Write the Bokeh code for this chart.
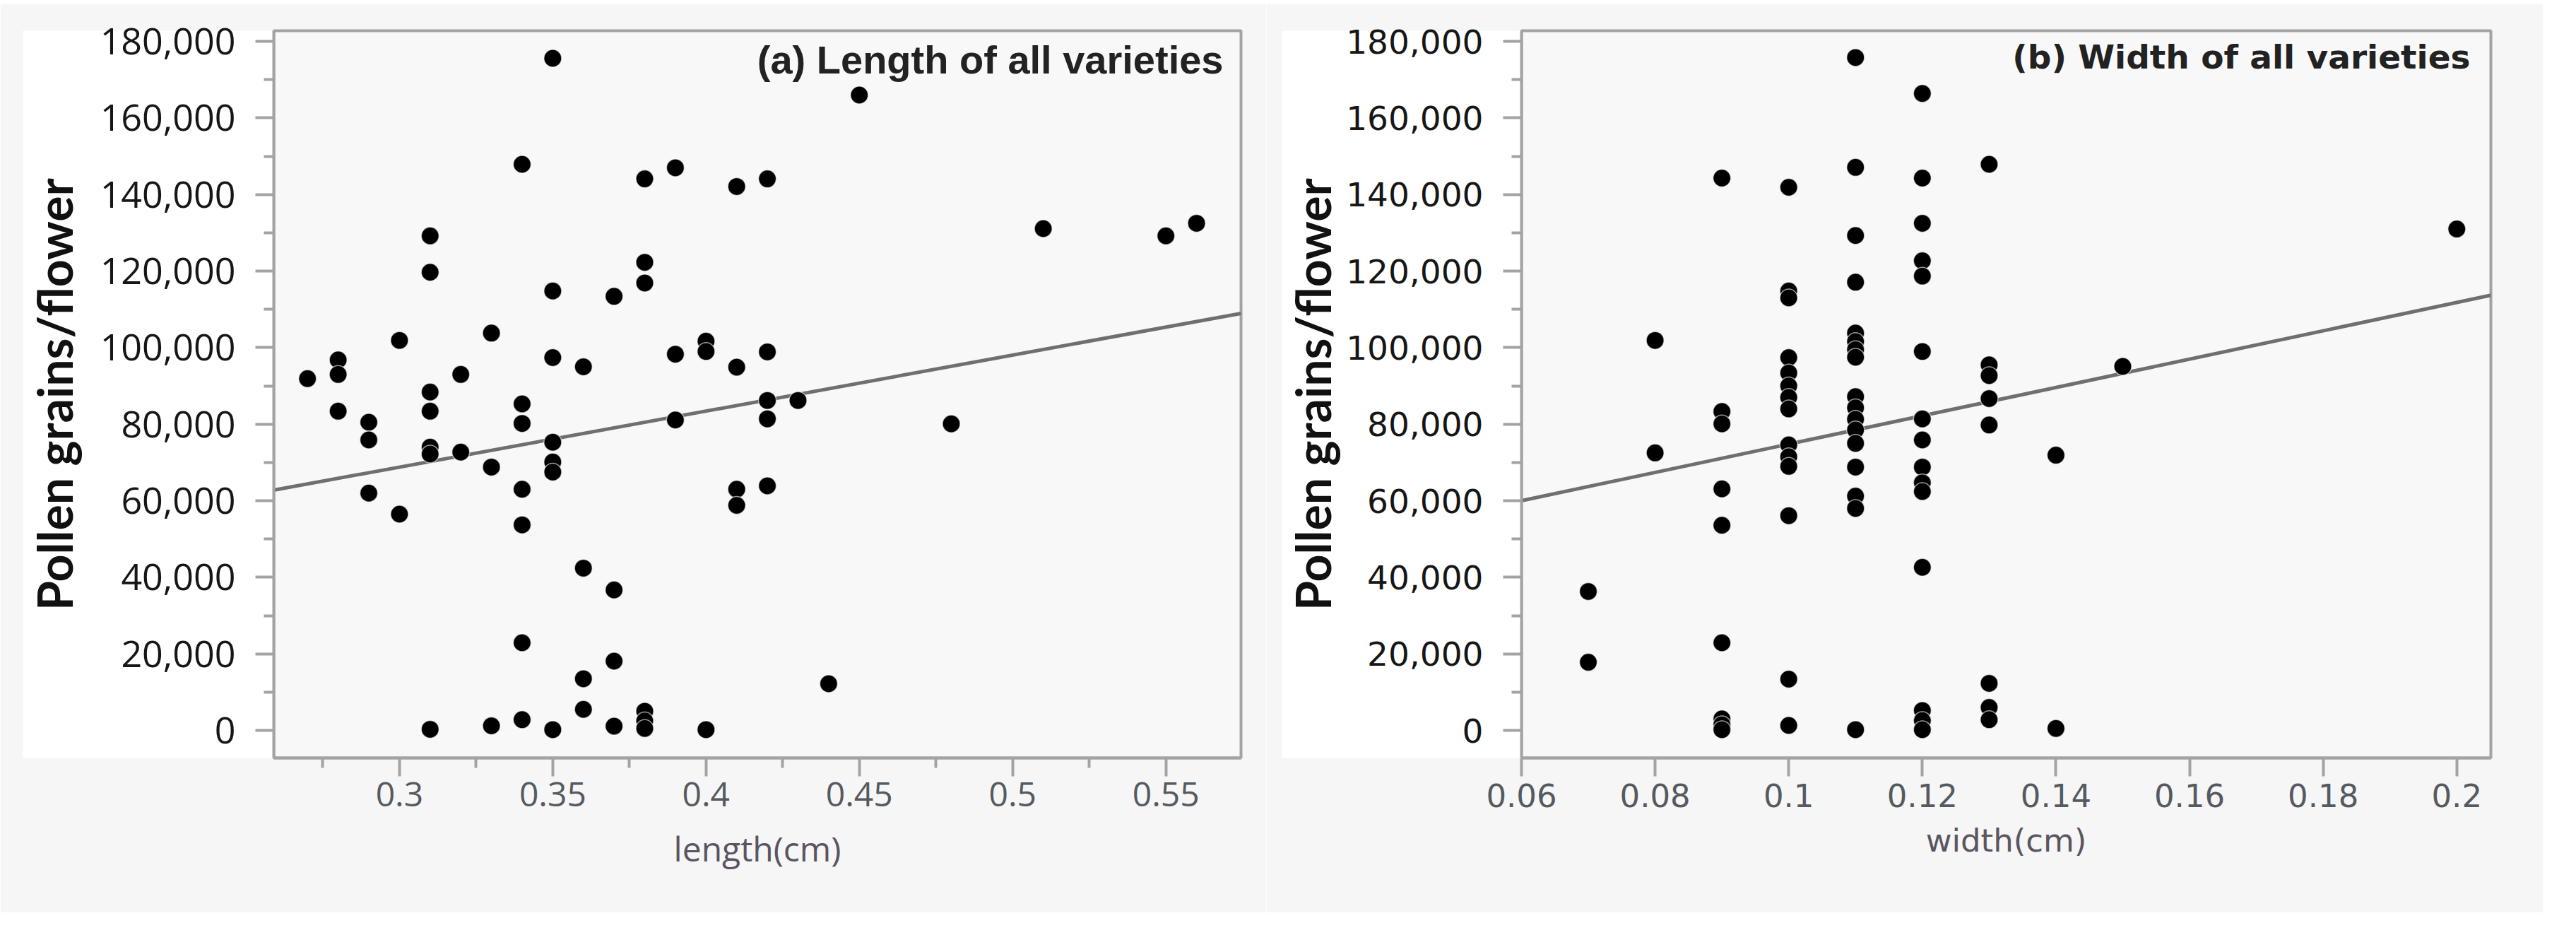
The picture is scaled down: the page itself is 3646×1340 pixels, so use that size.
from bokeh.plotting import figure
from bokeh.models import FixedTicker, NumeralTickFormatter, Label, Range1d, Spacer
from bokeh.layouts import row, column
from bokeh.embed import file_html
from bokeh.resources import INLINE

# ---------------- data ----------------
length_cm = [0.27,
             0.28, 0.28, 0.28,
             0.29, 0.29, 0.29,
             0.30, 0.30,
             0.31, 0.31, 0.31, 0.31, 0.31, 0.31, 0.31,
             0.32, 0.32,
             0.33, 0.33, 0.33,
             0.34, 0.34, 0.34, 0.34, 0.34, 0.34, 0.34,
             0.35, 0.35, 0.35, 0.35, 0.35, 0.35, 0.35,
             0.36, 0.36, 0.36, 0.36,
             0.37, 0.37, 0.37, 0.37,
             0.38, 0.38, 0.38, 0.38, 0.38, 0.38,
             0.39, 0.39, 0.39,
             0.40, 0.40, 0.40,
             0.41, 0.41, 0.41, 0.41,
             0.42, 0.42, 0.42, 0.42, 0.42,
             0.43, 0.44, 0.45, 0.48, 0.51, 0.55, 0.56]
pollen_by_length = [91900,
                    96800, 93000, 83400,
                    80500, 75900, 62000,
                    101900, 56500,
                    129200, 119700, 88400, 83400, 74000, 72200, 300,
                    93000, 72700,
                    103800, 68800, 1200,
                    147900, 85300, 80200, 63000, 53700, 22900, 2800,
                    175600, 114800, 97400, 75300, 70100, 67500, 200,
                    95000, 42400, 13500, 5500,
                    113400, 36700, 18100, 1100,
                    144100, 122300, 116900, 5000, 2500, 500,
                    147000, 98300, 81100,
                    101700, 99000, 200,
                    142100, 94900, 63000, 58800,
                    144100, 98900, 86200, 81400, 63900,
                    86200, 12200, 166000, 80100, 131100, 129200, 132500]

width_cm = ([0.07] * 2 + [0.08] * 2 + [0.09] * 9 + [0.10] * 14 + [0.11] * 17 +
            [0.12] * 15 + [0.13] * 8 + [0.14] * 2 + [0.15] + [0.20])
pollen_by_width = [36300, 17800,
                   101900, 72500,
                   144300, 83300, 80100, 63100, 53600, 22900, 3000, 1500, 200,
                   141900, 114800, 113000, 97400, 93400, 90000, 87000, 84000,
                   74600, 71500, 69000, 56100, 13400, 1300,
                   175800, 147100, 129300, 117100, 103800, 101600, 99500, 97500,
                   87200, 84300, 81300, 78500, 75000, 68800, 61200, 58000, 200,
                   166400, 144300, 132500, 122700, 118700, 99000, 81400, 75900,
                   68800, 64700, 62400, 42600, 5200, 2600, 200,
                   147900, 95500, 92700, 86700, 79800, 12300, 6000, 2800,
                   71900, 500,
                   95100,
                   131000]

assert len(length_cm) == len(pollen_by_length)
assert len(width_cm) == len(pollen_by_width)

# fitted lines (intercept, slope)
length_fit = (24900, 146300)
width_fit = (37800, 370000)

y_ticks = [0, 20000, 40000, 60000, 80000, 100000, 120000, 140000, 160000, 180000]
y_minor = [10000, 30000, 50000, 70000, 90000, 110000, 130000, 150000, 170000]
length_ticks = [0.3, 0.35, 0.4, 0.45, 0.5, 0.55]
length_minor = [0.275, 0.325, 0.375, 0.425, 0.475, 0.525, 0.575]
width_ticks = [0.06, 0.08, 0.1, 0.12, 0.14, 0.16, 0.18, 0.2]

length_range = (0.259, 0.5745)
width_range = (0.06, 0.2051)
pollen_range = (-7200, 182800)

titles = ["(a) Length of all varieties", "(b) Width of all varieties"]
x_labels = ["length(cm)", "width(cm)"]
y_label = "Pollen grains/flower"

AX = "#a3a3a3"
TICK_TXT = "#555a60"


def panel(xs, ys, fit, xr, xticks, xminor, title, xlabel, width, bl, br,
          tick_font, tick_size, xtick_size, xlab_size, title_font, title_size,
          title_dx, xstand, xlabstand, ystand, ylabstand):
    p = figure(width=width, height=1286,
               x_range=Range1d(*xr), y_range=Range1d(*pollen_range),
               output_backend="svg", toolbar_location=None,
               min_border_left=bl, min_border_right=br,
               min_border_top=38, min_border_bottom=219,
               background_fill_color="#f8f8f8", border_fill_color="#f6f6f6")
    p.grid.visible = False
    p.outline_line_color = AX
    p.outline_line_width = 4

    for ax in (p.xaxis[0], p.yaxis[0]):
        ax.axis_line_color = AX
        ax.axis_line_width = 4
        ax.major_tick_line_color = AX
        ax.major_tick_line_width = 4
        ax.minor_tick_line_color = AX
        ax.minor_tick_line_width = 4
        ax.major_tick_in = 0
        ax.minor_tick_in = 0
        ax.major_tick_out = 26
        ax.minor_tick_out = 14

    xa = p.xaxis[0]
    xa.ticker = FixedTicker(ticks=xticks, minor_ticks=xminor)
    xa.formatter = NumeralTickFormatter(format="0.0[0]")
    xa.major_label_text_font = tick_font
    xa.major_label_text_font_size = xtick_size
    xa.major_label_text_color = TICK_TXT
    xa.major_label_standoff = xstand
    xa.axis_label = xlabel
    xa.axis_label_text_font = tick_font
    xa.axis_label_text_font_style = "normal"
    xa.axis_label_text_font_size = xlab_size
    xa.axis_label_text_color = "#5a5560"
    xa.axis_label_standoff = xlabstand

    ya = p.yaxis[0]
    ya.ticker = FixedTicker(ticks=y_ticks, minor_ticks=y_minor)
    ya.formatter = NumeralTickFormatter(format="0,0")
    ya.major_label_text_font = tick_font
    ya.major_label_text_font_size = tick_size
    ya.major_label_text_color = "#161616"
    ya.major_label_standoff = ystand
    ya.axis_label = y_label
    ya.axis_label_text_font = "Lato"
    ya.axis_label_text_font_style = "bold"
    ya.axis_label_text_font_size = "68px"
    ya.axis_label_text_color = "#111111"
    ya.axis_label_standoff = ylabstand
    if "background_fill_color" in ya.properties():
        ya.background_fill_color = "#ffffff"

    x0, x1 = xr
    fx = [x0, x1]
    fy = [fit[0] + fit[1] * v for v in fx]
    p.line(fx, fy, line_color="#6f6f6f", line_width=5)

    p.scatter(xs, ys, size=25, fill_color="#000000",
              line_color="#ffffff", line_width=1.5, line_alpha=0.6)

    p.add_layout(Label(x=x1, y=pollen_range[1], x_offset=title_dx, y_offset=-9,
                       text=title, text_align="right", text_baseline="top",
                       text_font=title_font, text_font_style="bold",
                       text_font_size=title_size, text_color="#222222"))
    return p


p1 = panel(length_cm, pollen_by_length, length_fit, length_range,
           length_ticks, length_minor, titles[0], x_labels[0],
           width=1792, bl=387, br=36,
           tick_font="Open Sans", tick_size="52px", xtick_size="48px",
           xlab_size="48px", title_font="Liberation Sans", title_size="56px",
           title_dx=-25, xstand=8, xlabstand=24, ystand=28, ylabstand=22)

p2 = panel(width_cm, pollen_by_width, width_fit, width_range,
           width_ticks, [], titles[1], x_labels[1],
           width=1807, bl=361, br=74,
           tick_font="DejaVu Sans", tick_size="47px", xtick_size="45px",
           xlab_size="45px", title_font="DejaVu Sans", title_size="47px",
           title_dx=-29, xstand=10, xlabstand=18, ystand=28, ylabstand=4)

layout = column(Spacer(height=5), row(p1, p2))
open("out.html", "w").write(file_html(layout, INLINE))
